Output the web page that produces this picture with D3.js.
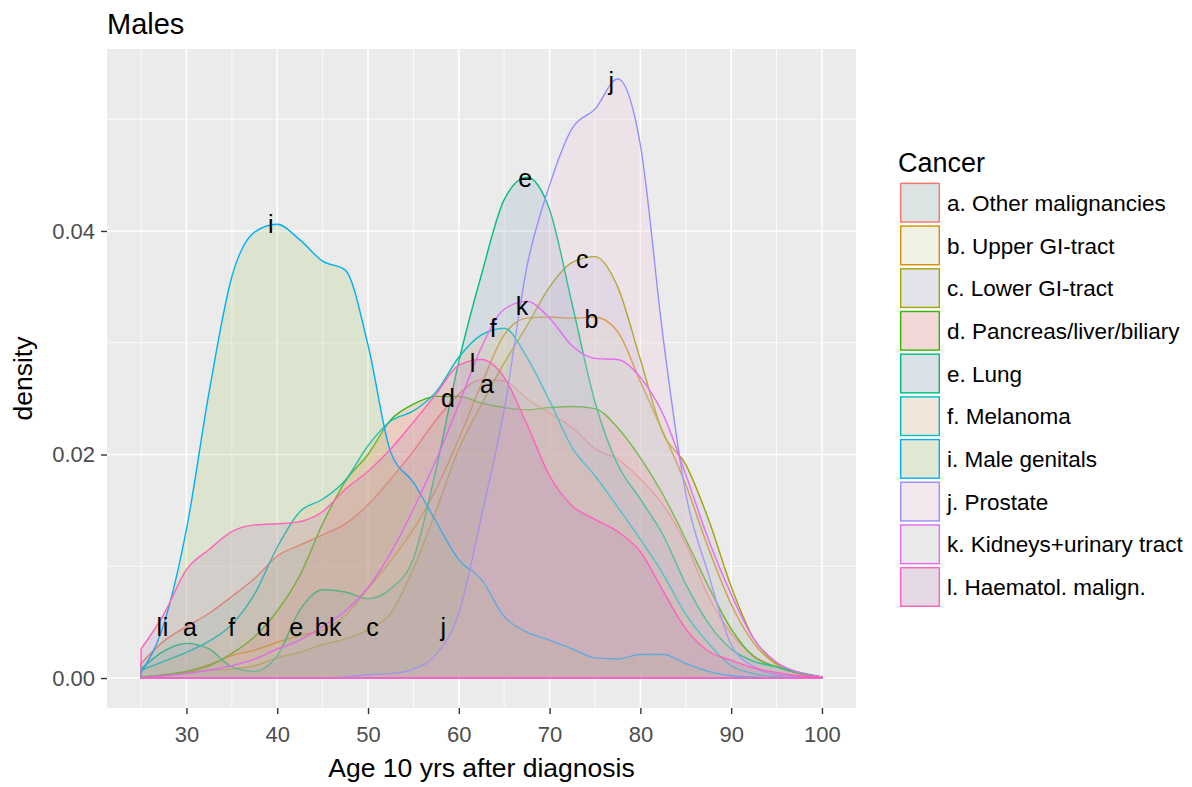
<!DOCTYPE html>
<html><head><meta charset="utf-8">
<script src="https://cdn.jsdelivr.net/npm/d3@7"></script>
<style>
body{margin:0;background:#fff;}
text{font-family:"Liberation Sans",Arial,sans-serif;}
</style>
</head><body>
<svg id="chart" width="1192" height="787"></svg>
<script>
// ---------- data ----------
const ages = [25,27.5,30,32.5,35,37.5,40,42.5,45,47.5,50,52.5,55,57.5,60,62.5,65,67.5,70,72.5,75,77.5,80,82.5,85,87.5,90,92.5,95,97.5,100];

const cancerKeys = ["a","b","c","d","e","f","i","j","k","l"];
const cancerNames = ["a. Other malignancies","b. Upper GI-tract","c. Lower GI-tract","d. Pancreas/liver/biliary","e. Lung","f. Melanoma","i. Male genitals","j. Prostate","k. Kidneys+urinary tract","l. Haematol. malign."];

const densA = [0.0013,0.0033,0.0046,0.0058,0.0073,0.0089,0.0109,0.0119,0.0128,0.0138,0.0155,0.0178,0.0203,0.0231,0.0254,0.0267,0.0266,0.0250,0.0237,0.0224,0.0205,0.0196,0.0178,0.0155,0.0120,0.0073,0.0040,0.0020,0.0010,0.0004,0.0001];
const densB = [0,0.0002,0.0006,0.0012,0.0020,0.0025,0.0032,0.0038,0.0043,0.0056,0.0080,0.0105,0.0133,0.0169,0.0214,0.0263,0.0307,0.0322,0.0323,0.0322,0.0323,0.0310,0.0265,0.0220,0.0173,0.0116,0.0066,0.0031,0.0012,0.0004,0.0001];
const densC = [0,0.0002,0.0005,0.0007,0.0008,0.0011,0.0018,0.0023,0.0030,0.0035,0.0043,0.0058,0.0098,0.0150,0.0205,0.0245,0.0282,0.0315,0.0350,0.0372,0.0377,0.0350,0.0285,0.0219,0.0191,0.0142,0.0082,0.0035,0.0013,0.0005,0.0001];
const densD = [0.0001,0.0003,0.0006,0.0011,0.0022,0.0037,0.0060,0.0092,0.0138,0.0176,0.0200,0.0231,0.0245,0.0252,0.0252,0.0246,0.0242,0.0240,0.0242,0.0243,0.0241,0.0224,0.0197,0.0164,0.0124,0.0082,0.0044,0.0019,0.0010,0.0004,0.0001];
const densE = [0.0008,0.0024,0.0031,0.0026,0.0010,0.0006,0.0020,0.0061,0.0079,0.0077,0.0071,0.0080,0.0107,0.0187,0.0283,0.0361,0.0428,0.0448,0.0419,0.0334,0.0247,0.0191,0.0160,0.0128,0.0084,0.0049,0.0026,0.0015,0.0010,0.0005,0.0001];
const densF = [0.0007,0.0015,0.0023,0.0033,0.0048,0.0075,0.0117,0.0149,0.0160,0.0177,0.0208,0.0230,0.0239,0.0256,0.0287,0.0307,0.0313,0.0287,0.0248,0.0206,0.0181,0.0153,0.0124,0.0093,0.0057,0.0031,0.0011,0.0004,0.0001,0,0];
const densI = [0.0005,0.0048,0.0133,0.0256,0.0359,0.0399,0.0406,0.0392,0.0373,0.0365,0.0298,0.0202,0.0175,0.0140,0.0106,0.0088,0.0055,0.0041,0.0034,0.0026,0.0018,0.0017,0.0021,0.0021,0.0013,0.0006,0.0002,0.0001,0,0,0];
const densJ = [0,0,0,0,0,0,0,0,0,0.0001,0.0003,0.0004,0.0008,0.0021,0.0058,0.0145,0.0240,0.0368,0.0441,0.0492,0.0509,0.0536,0.0477,0.0305,0.0165,0.0093,0.0030,0.0010,0.0003,0.0001,0];
const densK = [0,0.0002,0.0004,0.0007,0.0011,0.0017,0.0026,0.0034,0.0046,0.0060,0.0081,0.0112,0.0151,0.0195,0.0245,0.0296,0.0330,0.0337,0.0322,0.0297,0.0286,0.0285,0.0269,0.0236,0.0182,0.0124,0.0075,0.0035,0.0014,0.0005,0.0001];
const densL = [0.0026,0.0057,0.0097,0.0115,0.0131,0.0137,0.0138,0.0140,0.0149,0.0169,0.0185,0.0205,0.0229,0.0254,0.0280,0.0285,0.0269,0.0227,0.0181,0.0154,0.0142,0.0131,0.0113,0.0078,0.0044,0.0024,0.0016,0.0009,0.0005,0.0002,0.0001];

const densities = [densA,densB,densC,densD,densE,densF,densI,densJ,densK,densL];

const lineColors = ["#F8766D","#D89000","#A3A500","#39B600","#00BF7D","#00BFC4","#00B0F6","#9590FF","#E76BF3","#FF62BC"];
const fillColors = ["#84B1A7","#F2F2AC","#ACACD4","#F77A70","#7AA2C0","#EDB67A","#A2CA66","#F7C0DE","#CFCFCF","#B67AB6"];

// letter labels at the peak of each curve and at the low-age end
const peakLabelX = [63.1,74.6,73.6,58.8,67.3,63.8,39.3,76.8,66.95,61.5];
const peakLabelY = [0.0263,0.0321,0.0375,0.0251,0.0447,0.0313,0.0406,0.0534,0.0333,0.0282];
const startLabelX = [30.4,44.9,50.5,38.5,42.1,35.0,27.7,58.3,46.4,27.0];
const startLabelY = [0.0046,0.0046,0.0046,0.0046,0.0046,0.0046,0.0046,0.0046,0.0046,0.0046];

const xMajorTicks = [30,40,50,60,70,80,90,100];
const xMinorTicks = [25,35,45,55,65,75,85,95];
const yMajorTicks = [0,0.02,0.04];
const yMajorLabels = ["0.00","0.02","0.04"];
const yMinorTicks = [0.01,0.03,0.05];

// ---------- layout ----------
const P = {left:107, right:856, top:49, bottom:708};
const svg = d3.select("#chart");
const FONT = '"Liberation Sans",Arial,sans-serif';

const xMin = d3.min(ages), xMax = d3.max(ages);
const xPad = (xMax - xMin) * 0.05;
const x = d3.scaleLinear().domain([xMin - xPad, xMax + xPad]).range([P.left, P.right]);
const yMax = d3.max(densities, s => d3.max(s));
const y = d3.scaleLinear().domain([-0.05 * yMax, 1.05 * yMax]).range([P.bottom, P.top]);

svg.append("rect").attr("width",1192).attr("height",787).attr("fill","#fff");
svg.append("rect").attr("x",P.left).attr("y",P.top)
  .attr("width",P.right-P.left).attr("height",P.bottom-P.top).attr("fill","#EBEBEB");

const grid = svg.append("g");
grid.selectAll(".xmin").data(xMinorTicks).join("line")
  .attr("x1",d=>x(d)).attr("x2",d=>x(d)).attr("y1",P.top).attr("y2",P.bottom)
  .attr("stroke","#fff").attr("stroke-width",0.8);
grid.selectAll(".ymin").data(yMinorTicks).join("line")
  .attr("y1",d=>y(d)).attr("y2",d=>y(d)).attr("x1",P.left).attr("x2",P.right)
  .attr("stroke","#fff").attr("stroke-width",0.8);
grid.selectAll(".xmaj").data(xMajorTicks).join("line")
  .attr("x1",d=>x(d)).attr("x2",d=>x(d)).attr("y1",P.top).attr("y2",P.bottom)
  .attr("stroke","#fff").attr("stroke-width",1.6);
grid.selectAll(".ymaj").data(yMajorTicks).join("line")
  .attr("y1",d=>y(d)).attr("y2",d=>y(d)).attr("x1",P.left).attr("x2",P.right)
  .attr("stroke","#fff").attr("stroke-width",1.6);

// ---------- density areas ----------
const area = d3.area()
  .x(d => x(d[0])).y0(y(0)).y1(d => y(d[1]))
  .curve(d3.curveMonotoneX);

const areas = svg.append("g");
densities.forEach((s, k) => {
  const pts = ages.map((a, j) => [a, s[j]]);
  areas.append("path")
    .attr("d", area(pts))
    .attr("fill", fillColors[k]).attr("fill-opacity", 0.2)
    .attr("stroke", lineColors[k]).attr("stroke-width", 1.4)
    .attr("stroke-linejoin","round");
});

// ---------- letter labels ----------
const labels = svg.append("g").attr("font-family",FONT).attr("font-size",25).attr("fill","#000")
  .attr("text-anchor","middle");
cancerKeys.forEach((k, i) => {
  labels.append("text").attr("x", x(peakLabelX[i])).attr("y", y(peakLabelY[i])).attr("dy","0.36em").text(k);
  labels.append("text").attr("x", x(startLabelX[i])).attr("y", y(startLabelY[i])).attr("dy","0.36em").text(k);
});

// ---------- axes ----------
const xAxis = d3.axisBottom(x).tickValues(xMajorTicks).tickSize(6).tickPadding(12).tickFormat(d3.format("d"));
const gx = svg.append("g").attr("transform",`translate(0,${P.bottom})`).call(xAxis);
const yAxis = d3.axisLeft(y).tickValues(yMajorTicks).tickSize(6).tickPadding(6)
  .tickFormat((d,i) => yMajorLabels[i]);
const gy = svg.append("g").attr("transform",`translate(${P.left},0)`).call(yAxis);
[gx, gy].forEach(g => {
  g.select(".domain").remove();
  g.selectAll(".tick line").attr("stroke","#333").attr("stroke-width",1.4);
  g.selectAll(".tick text").attr("fill","#4D4D4D").attr("font-size",22).attr("font-family",FONT);
});

// ---------- titles ----------
svg.append("text").attr("x",P.left).attr("y",34).attr("font-size",29).attr("font-family",FONT)
  .attr("fill","#000").text("Males");
svg.append("text").attr("x",(P.left+P.right)/2).attr("y",777).attr("text-anchor","middle")
  .attr("font-size",26.5).attr("font-family",FONT).attr("fill","#000").text("Age 10 yrs after diagnosis");
svg.append("text").attr("transform",`translate(32,${(P.top+P.bottom)/2}) rotate(-90)`)
  .attr("text-anchor","middle").attr("font-size",26.5).attr("font-family",FONT).attr("fill","#000").text("density");

// ---------- legend ----------
const L = {x:900, top:182.7, step:42.7, size:40};
const lg = svg.append("g");
lg.append("text").attr("x",898).attr("y",171.5).attr("font-size",27).attr("font-family",FONT)
  .attr("fill","#000").text("Cancer");
cancerNames.forEach((name, i) => {
  const ty = L.top + i*L.step;
  lg.append("rect").attr("x",L.x).attr("y",ty).attr("width",L.size).attr("height",L.size).attr("fill","#F2F2F2");
  lg.append("rect").attr("x",L.x+0.7).attr("y",ty+0.7).attr("width",L.size-1.4).attr("height",L.size-1.4)
    .attr("fill",fillColors[i]).attr("fill-opacity",0.2)
    .attr("stroke",lineColors[i]).attr("stroke-width",1.4);
  lg.append("text").attr("x",947).attr("y",ty+L.size/2).attr("dy","0.36em")
    .attr("font-size",22.5).attr("font-family",FONT).attr("fill","#000").text(name);
});
</script>
</body></html>
